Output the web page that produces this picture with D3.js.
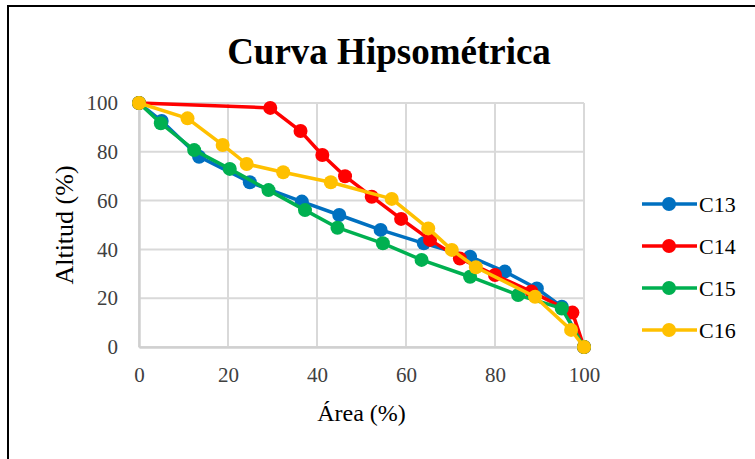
<!DOCTYPE html>
<html>
<head>
<meta charset="utf-8">
<script src="https://cdn.jsdelivr.net/npm/d3@7/dist/d3.min.js"></script>
<style>
  html, body { margin: 0; padding: 0; background: #fff; }
  svg { display: block; }
  text { font-family: "Liberation Serif", "Times New Roman", serif; fill: #000; }
  .tick text { fill: #404040; }
</style>
</head>
<body>
<svg id="chart" width="755" height="459"></svg>
<script>
// Hypsometric curves: area (%) above each altitude (%) for four basins
const seriesNames = ["C13", "C14", "C15", "C16"];
const seriesColors = ["#0070C0", "#FF0000", "#00B050", "#FFC000"];

const areaC13 = [0, 5.1, 13.5, 24.9, 36.6, 45.0, 54.3, 64.0, 74.4, 82.2, 89.4, 95.0, 100];
const altC13  = [100, 92.6, 78.0, 67.5, 59.6, 54.1, 48.0, 42.5, 37.0, 30.9, 24.0, 16.5, 0];

const areaC14 = [0, 29.5, 36.3, 41.2, 46.3, 52.3, 58.9, 65.4, 72.1, 80.0, 88.2, 97.4, 100];
const altC14  = [100, 98.0, 88.5, 78.7, 70.0, 61.6, 52.5, 43.9, 36.3, 29.5, 22.7, 14.1, 0];

const areaC15 = [0, 4.9, 12.4, 20.4, 29.1, 37.3, 44.6, 54.8, 63.5, 74.4, 85.2, 95.0, 100];
const altC15  = [100, 91.7, 80.7, 73.0, 64.3, 56.1, 48.9, 42.5, 35.7, 28.8, 21.3, 15.8, 0];

const areaC16 = [0, 10.9, 18.8, 24.2, 32.4, 43.1, 56.8, 65.0, 70.3, 75.7, 89.0, 97.1, 100];
const altC16  = [100, 93.7, 82.8, 75.0, 71.6, 67.5, 60.7, 48.6, 39.8, 32.7, 20.6, 7.0, 0];

const xTicks = [0, 20, 40, 60, 80, 100];
const yTicks = [0, 20, 40, 60, 80, 100];

const series = [
  { name: seriesNames[0], color: seriesColors[0], pts: d3.zip(areaC13, altC13) },
  { name: seriesNames[1], color: seriesColors[1], pts: d3.zip(areaC14, altC14) },
  { name: seriesNames[2], color: seriesColors[2], pts: d3.zip(areaC15, altC15) },
  { name: seriesNames[3], color: seriesColors[3], pts: d3.zip(areaC16, altC16) }
];

const svg = d3.select("#chart");

// chart frame
svg.append("rect")
  .attr("x", 8).attr("y", 6)
  .attr("width", 770).attr("height", 470)
  .attr("fill", "#fff")
  .attr("stroke", "#000").attr("stroke-width", 2);

const plot = { left: 139, right: 584, top: 103, bottom: 347 };
const x = d3.scaleLinear().domain([0, 100]).range([plot.left, plot.right]);
const y = d3.scaleLinear().domain([0, 100]).range([plot.bottom, plot.top]);

// grid
const grid = svg.append("g");
grid.selectAll("line.v").data(xTicks).join("line")
  .attr("x1", d => x(d)).attr("x2", d => x(d))
  .attr("y1", plot.top).attr("y2", plot.bottom)
  .attr("stroke", "#d9d9d9").attr("stroke-width", 2);
grid.selectAll("line.h").data(yTicks).join("line")
  .attr("x1", plot.left).attr("x2", plot.right)
  .attr("y1", d => y(d)).attr("y2", d => y(d))
  .attr("stroke", "#d9d9d9").attr("stroke-width", 2);

// axes
const xAxis = d3.axisBottom(x).tickValues(xTicks).tickSize(0).tickPadding(20);
const yAxis = d3.axisLeft(y).tickValues(yTicks).tickSize(0).tickPadding(21);

const gx = svg.append("g").attr("transform", `translate(0,${plot.bottom})`).call(xAxis);
const gy = svg.append("g").attr("transform", `translate(${plot.left},0)`).call(yAxis);
[gx, gy].forEach(g => {
  g.attr("font-family", null).attr("font-size", null);
  g.select(".domain").attr("stroke", "#d0d0d0").attr("stroke-width", 2.5);
  g.selectAll("text").style("font-size", "21px");
});
gx.selectAll("text").attr("dy", "0.71em");

// lines and markers
const line = d3.line().x(d => x(d[0])).y(d => y(d[1]));
const marks = svg.append("g");
series.forEach(s => {
  marks.append("path")
    .attr("d", line(s.pts))
    .attr("fill", "none")
    .attr("stroke", s.color).attr("stroke-width", 3.5)
    .attr("stroke-linejoin", "round");
  marks.append("g").selectAll("circle").data(s.pts).join("circle")
    .attr("cx", d => x(d[0])).attr("cy", d => y(d[1]))
    .attr("r", 7).attr("fill", s.color);
});

// title
svg.append("text")
  .attr("x", 389).attr("y", 64)
  .attr("text-anchor", "middle")
  .style("font-size", "37px").attr("font-weight", "bold")
  .text("Curva Hipsométrica");

// axis titles
svg.append("text")
  .attr("x", x(50)).attr("y", 421)
  .attr("text-anchor", "middle")
  .style("font-size", "24px")
  .text("Área (%)");

svg.append("text")
  .attr("transform", `translate(73,${y(50)}) rotate(-90)`)
  .attr("text-anchor", "middle")
  .style("font-size", "26px")
  .text("Altitud (%)");

// legend
const legend = svg.append("g");
const legendY = [204, 246, 288, 330];
series.forEach((s, i) => {
  const g = legend.append("g").attr("transform", `translate(0,${legendY[i]})`);
  g.append("line").attr("x1", 642).attr("x2", 697).attr("y1", 0).attr("y2", 0)
    .attr("stroke", s.color).attr("stroke-width", 3.5);
  g.append("circle").attr("cx", 669).attr("cy", 0).attr("r", 7).attr("fill", s.color);
  g.append("text").attr("x", 699).attr("y", 0).attr("dy", "0.35em")
    .style("font-size", "22px").text(s.name);
});
</script>
</body>
</html>
